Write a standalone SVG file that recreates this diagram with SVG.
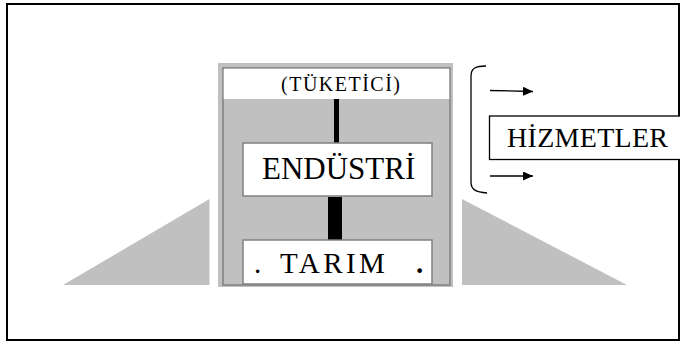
<svg xmlns="http://www.w3.org/2000/svg" width="680" height="344" viewBox="0 0 680 344">
<defs>
<style>
.t{font-family:"Liberation Serif","Times New Roman",serif;fill:#000}
.grey{fill:#c0c0c0}
.box{fill:#fff;stroke:#808080;stroke-width:1.5}
.ln{stroke:#000;stroke-width:1.3;fill:none}
</style>
<marker id="ah" viewBox="0 0 10 10" refX="10" refY="5" markerWidth="10" markerHeight="9" markerUnits="userSpaceOnUse" orient="auto" preserveAspectRatio="none">
<path d="M0,0 L10,5 L0,10 Z" fill="#000"/>
</marker>
</defs>
<rect x="0" y="0" width="680" height="344" fill="#fff"/>
<rect x="7" y="4" width="672" height="336" fill="none" stroke="#000" stroke-width="2"/>
<polygon class="grey" points="209.5,199 209.5,285 63,285"/>
<polygon class="grey" points="462,199 462,285 627,285"/>
<g id="frame">
<rect class="grey" x="218" y="63" width="235" height="224"/>
<rect x="223" y="68" width="227" height="217" fill="none" stroke="#808080" stroke-width="1.5"/>
<rect x="223.75" y="68.75" width="225.5" height="30.25" fill="#fff"/>
</g>
<g id="tuketici">
<text class="t" x="281" y="91" font-size="20" letter-spacing="1.5">(TÜKETİCİ)</text>
</g>
<g id="connectors">
<rect x="334" y="99" width="5" height="44" fill="#000"/>
<rect x="328" y="197" width="14" height="43" fill="#000"/>
<path class="ln" d="M486,66 C476,66 471,68 471,76 L471,182 C471,190 476,192 487,193"/>
<line class="ln" x1="490" y1="90.5" x2="533" y2="91.5" marker-end="url(#ah)"/>
<line class="ln" x1="490" y1="176" x2="533" y2="176" marker-end="url(#ah)"/>
</g>
<g id="endustri">
<rect class="box" x="243" y="143" width="189" height="53"/>
<text class="t" x="262" y="179" font-size="31">ENDÜSTRİ</text>
</g>
<g id="tarim">
<rect class="box" x="243" y="240" width="189" height="44"/>
<text class="t" y="273" font-size="29"><tspan x="254">.</tspan><tspan x="280" letter-spacing="3.4">TARIM</tspan><tspan x="416" font-weight="bold">.</tspan></text>
</g>
<g id="hizmetler">
<rect x="489.5" y="116" width="200" height="43.5" fill="#fff" stroke="#000" stroke-width="1.3"/>
<text class="t" x="507" y="147" font-size="28" letter-spacing="0.3">HİZMETLER</text>
</g>
</svg>
